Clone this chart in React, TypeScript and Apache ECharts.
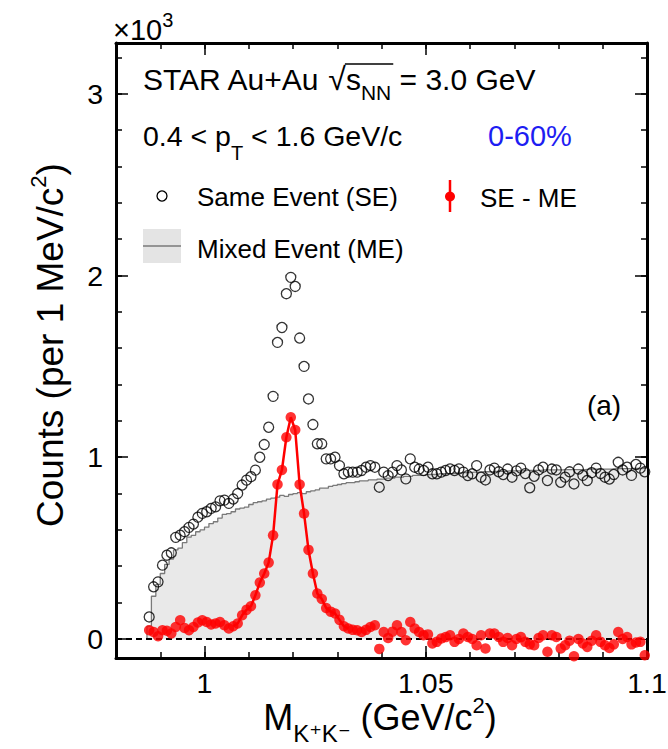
import React, { useEffect, useRef } from "react";
import * as echarts from "echarts";

const FONT = '"Liberation Sans", Arial, Helvetica, "DejaVu Sans", sans-serif';

// 1 MeV/c^2 bins, first bin centred at 0.9875 GeV/c^2
const BIN_START = 0.9875;
const BIN_WIDTH = 0.001;

// Same Event counts (x10^3 per 1 MeV/c^2)
const sameEvent = [
  0.121, 0.287, 0.314, 0.406, 0.461, 0.474, 0.559, 0.571, 0.59, 0.614,
  0.632, 0.67, 0.691, 0.7, 0.718, 0.727, 0.76, 0.764, 0.746, 0.77,
  0.8, 0.847, 0.874, 0.893, 0.929, 1.0, 1.07, 1.165, 1.335, 1.632,
  1.714, 1.9, 1.99, 1.94, 1.656, 1.5, 1.321, 1.18, 1.074, 1.074,
  0.991, 0.991, 1.0, 0.954, 0.909, 0.918, 0.918, 0.918, 0.927, 0.945,
  0.954, 0.945, 0.835, 0.918, 0.899, 0.918, 0.954, 0.93, 0.881, 0.991,
  0.945, 0.935, 0.927, 0.945, 0.909, 0.909, 0.918, 0.927, 0.936, 0.927,
  0.936, 0.918, 0.899, 0.909, 0.954, 0.89, 0.875, 0.93, 0.94, 0.92,
  0.905, 0.935, 0.89, 0.925, 0.94, 0.91, 0.832, 0.895, 0.93, 0.945,
  0.872, 0.935, 0.93, 0.862, 0.89, 0.92, 0.853, 0.935, 0.9, 0.872,
  0.915, 0.94, 0.91, 0.89, 0.88, 0.905, 0.972, 0.93, 0.945, 0.9,
  0.96, 0.94, 0.92,
];

// Mixed Event background (x10^3 per 1 MeV/c^2)
const mixedEvent = [
  0.07, 0.235, 0.3, 0.36, 0.41, 0.44, 0.49, 0.5, 0.53, 0.56,
  0.57, 0.59, 0.6, 0.615, 0.635, 0.645, 0.665, 0.685, 0.69, 0.7,
  0.715, 0.72, 0.725, 0.74, 0.75, 0.755, 0.76, 0.77, 0.775, 0.78,
  0.79, 0.785, 0.795, 0.8, 0.805, 0.8, 0.81, 0.815, 0.82, 0.83,
  0.83, 0.84, 0.845, 0.85, 0.855, 0.86, 0.86, 0.865, 0.87, 0.87,
  0.875, 0.875, 0.88, 0.88, 0.885, 0.885, 0.89, 0.89, 0.895, 0.895,
  0.9, 0.9, 0.9, 0.905, 0.905, 0.905, 0.91, 0.91, 0.91, 0.912,
  0.915, 0.915, 0.915, 0.918, 0.918, 0.92, 0.92, 0.92, 0.922, 0.922,
  0.922, 0.925, 0.925, 0.925, 0.925, 0.928, 0.928, 0.928, 0.928, 0.93,
  0.93, 0.93, 0.93, 0.93, 0.932, 0.932, 0.932, 0.932, 0.932, 0.935,
  0.935, 0.935, 0.935, 0.935, 0.935, 0.937, 0.937, 0.937, 0.937, 0.938,
  0.938, 0.938, 0.94,
];

// SE - ME (x10^3 per 1 MeV/c^2)
const seMinusMe = [
  0.048, 0.038, 0.015, 0.048, 0.045, 0.03, 0.066, 0.103, 0.06, 0.048,
  0.066, 0.09, 0.103, 0.093, 0.08, 0.085, 0.093, 0.075, 0.057, 0.07,
  0.085, 0.13, 0.16, 0.18, 0.24, 0.31, 0.36, 0.42, 0.57, 0.85,
  0.93, 1.11, 1.22, 1.15, 0.85, 0.69, 0.49, 0.36, 0.25, 0.22,
  0.17, 0.15, 0.14, 0.105, 0.07, 0.057, 0.05, 0.048, 0.038, 0.05,
  0.066, 0.075, -0.055, 0.038, 0.005, 0.04, 0.075, 0.038, -0.007, 0.093,
  0.057, 0.038, 0.02, 0.025, -0.025, -0.016, 0.002, 0.01, 0.02, -0.016,
  0.0, 0.03, 0.011, 0.0, -0.035, 0.02, -0.053, 0.03, 0.03, 0.011,
  -0.016, 0.005, -0.035, 0.0, 0.01, -0.016, -0.03, -0.035, 0.005, 0.02,
  -0.071, 0.02, 0.011, -0.053, -0.035, -0.01, -0.095, 0.0, -0.025, -0.044,
  -0.01, 0.02, -0.016, -0.035, -0.05, -0.03, 0.038, 0.0, 0.011, -0.03,
  -0.02, -0.016, -0.09,
];

// bins joined by the red line around the phi peak
const FIT_FIRST = 19;
const FIT_LAST = 45;

const X_MIN = 0.98;
const X_MAX = 1.1;
const Y_MIN = -0.105;
const Y_MAX = 3.28;
const xLabelValues = [1, 1.05, 1.1];
const xMinorTickValues = [0.99, 1.0, 1.01, 1.02, 1.03, 1.04, 1.05, 1.06, 1.07, 1.08, 1.09, 1.1];
const yLabelValues = [0, 1, 2, 3];
const yMinorTickValues = [0, 0.2, 0.4, 0.6, 0.8, 1, 1.2, 1.4, 1.6, 1.8, 2, 2.2, 2.4, 2.6, 2.8, 3, 3.2];

const measureCtx = typeof document !== "undefined" ? document.createElement("canvas").getContext("2d") : null;
function textWidth(text: string, size: number) {
  if (!measureCtx) return text.length * size * 0.55;
  measureCtx.font = `${size}px ${FONT}`;
  return measureCtx.measureText(text).width;
}

type Piece = { text: string; size: number; dy: number };

// a centred line of text made of pieces (for sub/superscripts), in local coordinates
function composedText(pieces: Piece[]) {
  const widths = pieces.map((p) => textWidth(p.text, p.size));
  const total = widths.reduce((a, b) => a + b, 0);
  let x = -total / 2;
  return pieces.map((p, i) => {
    const el = {
      type: "text",
      x,
      y: p.dy,
      style: { text: p.text, fontSize: p.size, fontFamily: FONT, fill: "#000", align: "left", verticalAlign: "middle" },
    };
    x += widths[i];
    return el;
  });
}

export default function App() {
  const ref = useRef<HTMLDivElement>(null);

  useEffect(() => {
    if (!ref.current) return;
    document.body.style.margin = "0";
    const chart = echarts.init(ref.current, null, { renderer: "svg" });

    const centres = sameEvent.map((_, i) => Number((BIN_START + i * BIN_WIDTH).toFixed(4)));
    const seData = centres.map((x, i) => [x, sameEvent[i]]);
    const sigData = centres.map((x, i) => [x, seMinusMe[i]]);
    const last = mixedEvent.length - 1;
    const meStep = [
      [Number((centres[0] - BIN_WIDTH / 2).toFixed(4)), 0],
      ...mixedEvent.map((v, i) => [Number((centres[i] - BIN_WIDTH / 2).toFixed(4)), v]),
      [Number((centres[last] + BIN_WIDTH / 2).toFixed(4)), mixedEvent[last]],
    ];
    const fitData = sigData.slice(FIT_FIRST, FIT_LAST + 1);

    const frameLine = { show: true, onZero: false, lineStyle: { color: "#000", width: 3 } };
    const tickStyle = { color: "#000", width: 1.5 };
    const labelFont = { fontSize: 28.5, fontFamily: FONT, color: "#000" };

    const xBase = { type: "value", min: X_MIN, max: X_MAX, splitLine: { show: false } };
    const yBase = { type: "value", min: Y_MIN, max: Y_MAX, splitLine: { show: false } };

    // title geometry for the square-root overline
    const titleX = 143;
    const sqrtX = titleX + textWidth("STAR Au+Au ", 30);
    const sqrtW = textWidth("√", 32);
    const overEnd = sqrtX + sqrtW + textWidth("s", 30) + textWidth("NN", 21) + 2;

    chart.setOption({
      animation: false,
      backgroundColor: "#fff",
      grid: { left: 116, right: 21, top: 43, bottom: 91, outerBoundsMode: "none" },
      xAxis: [
        {
          ...xBase,
          position: "bottom",
          axisLine: frameLine,
          axisTick: { show: true, inside: true, length: 6, customValues: xMinorTickValues, lineStyle: tickStyle },
          axisLabel: { show: true, customValues: xLabelValues, formatter: (v: number) => String(v), margin: 10, ...labelFont },
        },
        {
          ...xBase,
          position: "bottom",
          axisLine: { show: false, onZero: false },
          axisTick: { show: true, inside: true, length: 12, customValues: xLabelValues, lineStyle: tickStyle },
          axisLabel: { show: false },
        },
        {
          ...xBase,
          position: "top",
          axisLine: frameLine,
          axisTick: { show: true, inside: true, length: 6, customValues: xMinorTickValues, lineStyle: tickStyle },
          axisLabel: { show: false },
        },
        {
          ...xBase,
          position: "top",
          axisLine: { show: false, onZero: false },
          axisTick: { show: true, inside: true, length: 12, customValues: xLabelValues, lineStyle: tickStyle },
          axisLabel: { show: false },
        },
      ],
      yAxis: [
        {
          ...yBase,
          position: "left",
          axisLine: frameLine,
          axisTick: { show: true, inside: true, length: 6, customValues: yMinorTickValues, lineStyle: tickStyle },
          axisLabel: { show: true, customValues: yLabelValues, formatter: (v: number) => String(v), margin: 13, ...labelFont },
        },
        {
          ...yBase,
          position: "left",
          axisLine: { show: false, onZero: false },
          axisTick: { show: true, inside: true, length: 12, customValues: yLabelValues, lineStyle: tickStyle },
          axisLabel: { show: false },
        },
        {
          ...yBase,
          position: "right",
          axisLine: frameLine,
          axisTick: { show: true, inside: true, length: 6, customValues: yMinorTickValues, lineStyle: tickStyle },
          axisLabel: { show: false },
        },
        {
          ...yBase,
          position: "right",
          axisLine: { show: false, onZero: false },
          axisTick: { show: true, inside: true, length: 12, customValues: yLabelValues, lineStyle: tickStyle },
          axisLabel: { show: false },
        },
      ],
      series: [
        {
          name: "Mixed Event (ME)",
          type: "line",
          data: meStep,
          step: "end",
          symbol: "none",
          lineStyle: { color: "#7a7a7a", width: 1.3 },
          areaStyle: { color: "#e9e9e9", opacity: 1 },
          z: 1,
        },
        {
          name: "Same Event (SE)",
          type: "scatter",
          data: seData,
          symbol: "circle",
          symbolSize: 10,
          itemStyle: { color: "rgba(0,0,0,0)", borderColor: "#000", borderWidth: 1.3 },
          markLine: {
            silent: true,
            symbol: ["none", "none"],
            label: { show: false },
            lineStyle: { color: "#000", width: 2.2, type: [6, 4] },
            data: [{ yAxis: 0 }],
          },
          z: 3,
        },
        {
          name: "fit",
          type: "line",
          data: fitData,
          symbol: "none",
          lineStyle: { color: "#ff0000", width: 2.5 },
          z: 4,
        },
        {
          name: "SE - ME",
          type: "scatter",
          data: sigData,
          symbol: "circle",
          symbolSize: 10.5,
          itemStyle: { color: "#ff0000" },
          z: 5,
        },
      ],
      graphic: [
        {
          type: "text",
          x: titleX,
          y: 79,
          style: {
            text: "{n|STAR Au+Au }{r|√}{n|s}{sub|NN}{n| = 3.0 GeV}",
            verticalAlign: "middle",
            align: "left",
            rich: {
              n: { fontSize: 30, fontFamily: FONT, fill: "#000", lineHeight: 48 },
              r: { fontSize: 32, fontFamily: FONT, fill: "#000" },
              sub: { fontSize: 21, fontFamily: FONT, fill: "#000", verticalAlign: "bottom" },
            },
          },
        },
        {
          type: "line",
          shape: { x1: sqrtX + sqrtW - 1, y1: 64, x2: overEnd, y2: 64 },
          style: { stroke: "#000", lineWidth: 1.6 },
        },
        {
          type: "text",
          x: 143,
          y: 136,
          style: {
            text: "{n|0.4 < p}{sub|T}{n| < 1.6 GeV/c}",
            verticalAlign: "middle",
            align: "left",
            rich: {
              n: { fontSize: 28.5, fontFamily: FONT, fill: "#000", lineHeight: 54 },
              sub: { fontSize: 20, fontFamily: FONT, fill: "#000", verticalAlign: "bottom" },
            },
          },
        },
        {
          type: "text",
          x: 488,
          y: 136,
          style: { text: "0-60%", fontSize: 29, fontFamily: FONT, fill: "#1d1df2", verticalAlign: "middle", align: "left" },
        },
        {
          type: "circle",
          shape: { cx: 162, cy: 196, r: 5 },
          style: { fill: "none", stroke: "#000", lineWidth: 1.3 },
        },
        {
          type: "text",
          x: 197,
          y: 197,
          style: { text: "Same Event (SE)", fontSize: 26, fontFamily: FONT, fill: "#000", verticalAlign: "middle", align: "left" },
        },
        {
          type: "line",
          shape: { x1: 450, y1: 180, x2: 450, y2: 212 },
          style: { stroke: "#ff0000", lineWidth: 2.5 },
        },
        {
          type: "circle",
          shape: { cx: 450, cy: 196.5, r: 5 },
          style: { fill: "#ff0000" },
        },
        {
          type: "text",
          x: 480,
          y: 198,
          style: { text: "SE - ME", fontSize: 26, fontFamily: FONT, fill: "#000", verticalAlign: "middle", align: "left" },
        },
        {
          type: "rect",
          shape: { x: 143, y: 229, width: 38, height: 34 },
          style: { fill: "#e4e4e4" },
        },
        {
          type: "line",
          shape: { x1: 143, y1: 246, x2: 181, y2: 246 },
          style: { stroke: "#7a7a7a", lineWidth: 1.5 },
        },
        {
          type: "text",
          x: 197,
          y: 249,
          style: { text: "Mixed Event (ME)", fontSize: 26, fontFamily: FONT, fill: "#000", verticalAlign: "middle", align: "left" },
        },
        {
          type: "text",
          x: 604,
          y: 405,
          style: { text: "(a)", fontSize: 28, fontFamily: FONT, fill: "#000", verticalAlign: "middle", align: "center" },
        },
        {
          type: "text",
          x: 113,
          y: 30,
          style: {
            text: "{n|×10}{sup|3}",
            verticalAlign: "middle",
            align: "left",
            rich: {
              n: { fontSize: 29, fontFamily: FONT, fill: "#000", lineHeight: 40 },
              sup: { fontSize: 20, fontFamily: FONT, fill: "#000", verticalAlign: "top" },
            },
          },
        },
        {
          type: "group",
          x: 380,
          y: 717,
          children: composedText([
            { text: "M", size: 36, dy: 0 },
            { text: "K⁺K⁻", size: 24, dy: 16 },
            { text: " (GeV/c", size: 36, dy: 0 },
            { text: "2", size: 22, dy: -12 },
            { text: ")", size: 36, dy: 0 },
          ]),
        },
        {
          type: "group",
          x: 50,
          y: 345,
          rotation: Math.PI / 2,
          children: composedText([
            { text: "Counts (per 1 MeV/c", size: 37, dy: 0 },
            { text: "2", size: 22, dy: -12 },
            { text: ")", size: 37, dy: 0 },
          ]),
        },
      ],
    });

    return () => chart.dispose();
  }, []);

  return (
    <div
      ref={ref}
      style={{ position: "absolute", left: 0, top: 0, width: 668, height: 749, background: "#fff" }}
    />
  );
}
